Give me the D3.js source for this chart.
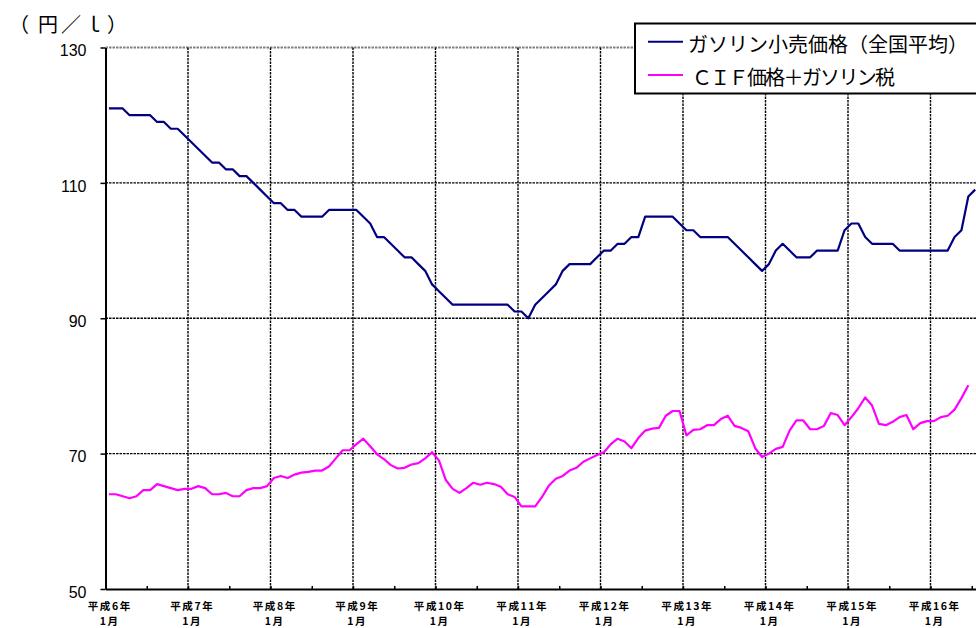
<!DOCTYPE html>
<html>
<head>
<meta charset="utf-8">
<script src="https://cdn.jsdelivr.net/npm/d3@7"></script>
<style>
  body { margin: 0; background: #fff; }
  svg { display: block; }
</style>
</head>
<body>
<svg id="chart" width="976" height="628"></svg>
<script>
// Year labels for January of each year on the category axis
const yearLabels = ["平成6年", "平成7年", "平成8年", "平成9年", "平成10年", "平成11年",
                    "平成12年", "平成13年", "平成14年", "平成15年", "平成16年"];
const monthLabel = "1月";

// Monthly gasoline retail price, national average (yen / litre), from 平成6年1月
const retailPrice = [
  121, 121, 121, 120, 120, 120, 120, 119, 119, 118, 118, 117,
  116, 115, 114, 113, 113, 112, 112, 111, 111, 110, 109, 108,
  107, 107, 106, 106, 105, 105, 105, 105, 106, 106, 106, 106,
  106, 105, 104, 102, 102, 101, 100, 99, 99, 98, 97, 95,
  94, 93, 92, 92, 92, 92, 92, 92, 92, 92, 92, 91,
  91, 90, 92, 93, 94, 95, 97, 98, 98, 98, 98, 99,
  100, 100, 101, 101, 102, 102, 105, 105, 105, 105, 105, 104,
  103, 103, 102, 102, 102, 102, 102, 101, 100, 99, 98, 97,
  98, 100, 101, 100, 99, 99, 99, 100, 100, 100, 100, 103,
  104, 104, 102, 101, 101, 101, 101, 100, 100, 100, 100, 100,
  100, 100, 100, 102, 103, 108, 109
];

// Monthly CIF price plus gasoline tax (yen / litre), from 平成6年1月
const cifPlusTax = [
  64.0, 64.0, 63.7, 63.4, 63.7, 64.6, 64.6, 65.5, 65.2, 64.9, 64.6, 64.8,
  64.8, 65.2, 64.9, 64.0, 64.0, 64.2, 63.7, 63.7, 64.6, 64.9, 64.9, 65.2,
  66.4, 66.7, 66.4, 66.9, 67.2, 67.3, 67.5, 67.5, 68.1, 69.3, 70.5, 70.5,
  71.4, 72.2, 71.1, 69.9, 69.2, 68.3, 67.8, 67.9, 68.4, 68.6, 69.3, 70.2,
  69.0, 66.1, 64.8, 64.2, 64.9, 65.7, 65.4, 65.7, 65.5, 65.1, 64.0, 63.6,
  62.2, 62.2, 62.2, 63.6, 65.3, 66.3, 66.7, 67.5, 67.9, 68.8, 69.3, 69.8,
  70.2, 71.4, 72.2, 71.8, 70.8, 72.3, 73.4, 73.7, 73.8, 75.6, 76.3, 76.3,
  72.7, 73.5, 73.6, 74.2, 74.2, 75.1, 75.6, 74.1, 73.8, 73.3, 70.8, 69.5,
  70.0, 70.7, 71.0, 73.4, 74.9, 74.9, 73.6, 73.6, 74.1, 76.0, 75.7, 74.2,
  75.4, 76.7, 78.3, 77.1, 74.4, 74.2, 74.7, 75.4, 75.7, 73.6, 74.5, 74.8,
  74.8, 75.4, 75.6, 76.5, 78.2, 80.1
];

const yTicks = [50, 70, 90, 110, 130];
const seriesNames = ["ガソリン小売価格（全国平均）", "ＣＩＦ価格＋ガソリン税"];
const seriesColors = ["#000080", "#ff00ff"];
const unitParts = ["（", "円／ｌ）"];

const monthCount = retailPrice.length;
const svg = d3.select("#chart");

// Each month is one category slot; points sit in the middle of their slot
const x = d3.scaleLinear().domain([0, monthCount]).range([105.5, 105.5 + monthCount * 6.875]);
const y = d3.scaleLinear().domain([50, 130]).range([589, 47.5]);

const plotTop = y(130), plotBottom = y(50), plotLeft = x(0), plotRight = x(monthCount);

// Horizontal gridlines
svg.append("g").selectAll("line")
  .data(yTicks.filter(v => v > 50))
  .join("line")
  .attr("x1", plotLeft).attr("x2", plotRight)
  .attr("y1", d => y(d)).attr("y2", d => y(d))
  .attr("stroke", d => d === 130 ? "#808080" : "#000")
  .attr("stroke-width", d => d === 130 ? 1.8 : 1.4)
  .attr("stroke-dasharray", "2.5,1");

// Vertical gridlines at each January boundary
svg.append("g").selectAll("line")
  .data(d3.range(12, monthCount, 12))
  .join("line")
  .attr("x1", d => x(d)).attr("x2", d => x(d))
  .attr("y1", plotTop).attr("y2", plotBottom)
  .attr("stroke", "#000")
  .attr("stroke-width", 1.4)
  .attr("stroke-dasharray", "2.5,1");

// Series lines
const line = d3.line().x((d, i) => x(i + 0.5)).y(d => y(d));
[retailPrice, cifPlusTax].forEach((series, k) => {
  svg.append("path")
    .datum(series)
    .attr("fill", "none")
    .attr("stroke", seriesColors[k])
    .attr("stroke-width", 2.2)
    .attr("stroke-linejoin", "round")
    .attr("d", line);
});

// Y axis
const yAxis = svg.append("g")
  .attr("transform", `translate(${plotLeft},0)`)
  .call(d3.axisLeft(y).tickValues(yTicks).tickSize(5).tickSizeOuter(0).tickPadding(14));
yAxis.select(".domain").attr("stroke", "#000").attr("stroke-width", 2);
yAxis.selectAll(".tick line").attr("stroke", "#000").attr("stroke-width", 1.5);
yAxis.selectAll(".tick text")
  .attr("font-family", "'Liberation Sans', Arial, sans-serif")
  .attr("font-size", 16)
  .attr("fill", "#000")
  .attr("dy", "0.52em");

// X axis with half-year tick marks
const xAxis = svg.append("g")
  .attr("transform", `translate(0,${plotBottom})`)
  .call(d3.axisBottom(x).tickValues(d3.range(0, monthCount, 6)).tickSize(-3).tickSizeOuter(0).tickFormat(""));
xAxis.select(".domain").attr("stroke", "#000").attr("stroke-width", 2);
xAxis.selectAll(".tick line").attr("stroke", "#000").attr("stroke-width", 1.5);

// Two-line January labels
const labels = svg.append("g")
  .attr("font-family", "'Noto Sans CJK JP', sans-serif")
  .attr("font-size", 10.5)
  .attr("font-weight", "bold")
  .attr("letter-spacing", 1.6)
  .attr("fill", "#000")
  .attr("text-anchor", "middle")
  .selectAll("g")
  .data(yearLabels)
  .join("g")
  .attr("transform", (d, i) => `translate(${x(i * 12 + 0.5) + 0.8},0)`);
labels.append("text").attr("y", 605.5).attr("dominant-baseline", "central").text(d => d);
labels.append("text").attr("y", 620.5).attr("dominant-baseline", "central").text(monthLabel);

// Unit label
const unit = svg.append("text")
  .attr("x", 9).attr("y", 23)
  .attr("dominant-baseline", "central")
  .attr("font-family", "'Noto Sans CJK JP', sans-serif")
  .attr("font-size", 20)
  .attr("letter-spacing", 3)
  .attr("fill", "#000");
unit.append("tspan").text(unitParts[0]);
unit.append("tspan").attr("dx", 6).text(unitParts[1]);

// Legend
const legend = svg.append("g");
legend.append("rect")
  .attr("x", 635).attr("y", 23.5)
  .attr("width", 400).attr("height", 70)
  .attr("fill", "#fff").attr("stroke", "#000").attr("stroke-width", 2);
const rows = legend.selectAll("g.row")
  .data(seriesNames)
  .join("g")
  .attr("class", "row")
  .attr("transform", (d, i) => `translate(0,${i === 0 ? 41.7 : 75})`);
rows.append("line")
  .attr("x1", 648).attr("x2", 683)
  .attr("stroke", (d, i) => seriesColors[i])
  .attr("stroke-width", 2);
rows.append("text")
  .attr("x", (d, i) => i === 0 ? 688 : 692)
  .attr("y", 1.5)
  .attr("dominant-baseline", "central")
  .attr("font-family", "'Noto Sans CJK JP', sans-serif")
  .attr("font-size", 20)
  .attr("letter-spacing", (d, i) => i === 0 ? 0 : -1.7)
  .attr("fill", "#000")
  .text(d => d);
</script>
</body>
</html>
